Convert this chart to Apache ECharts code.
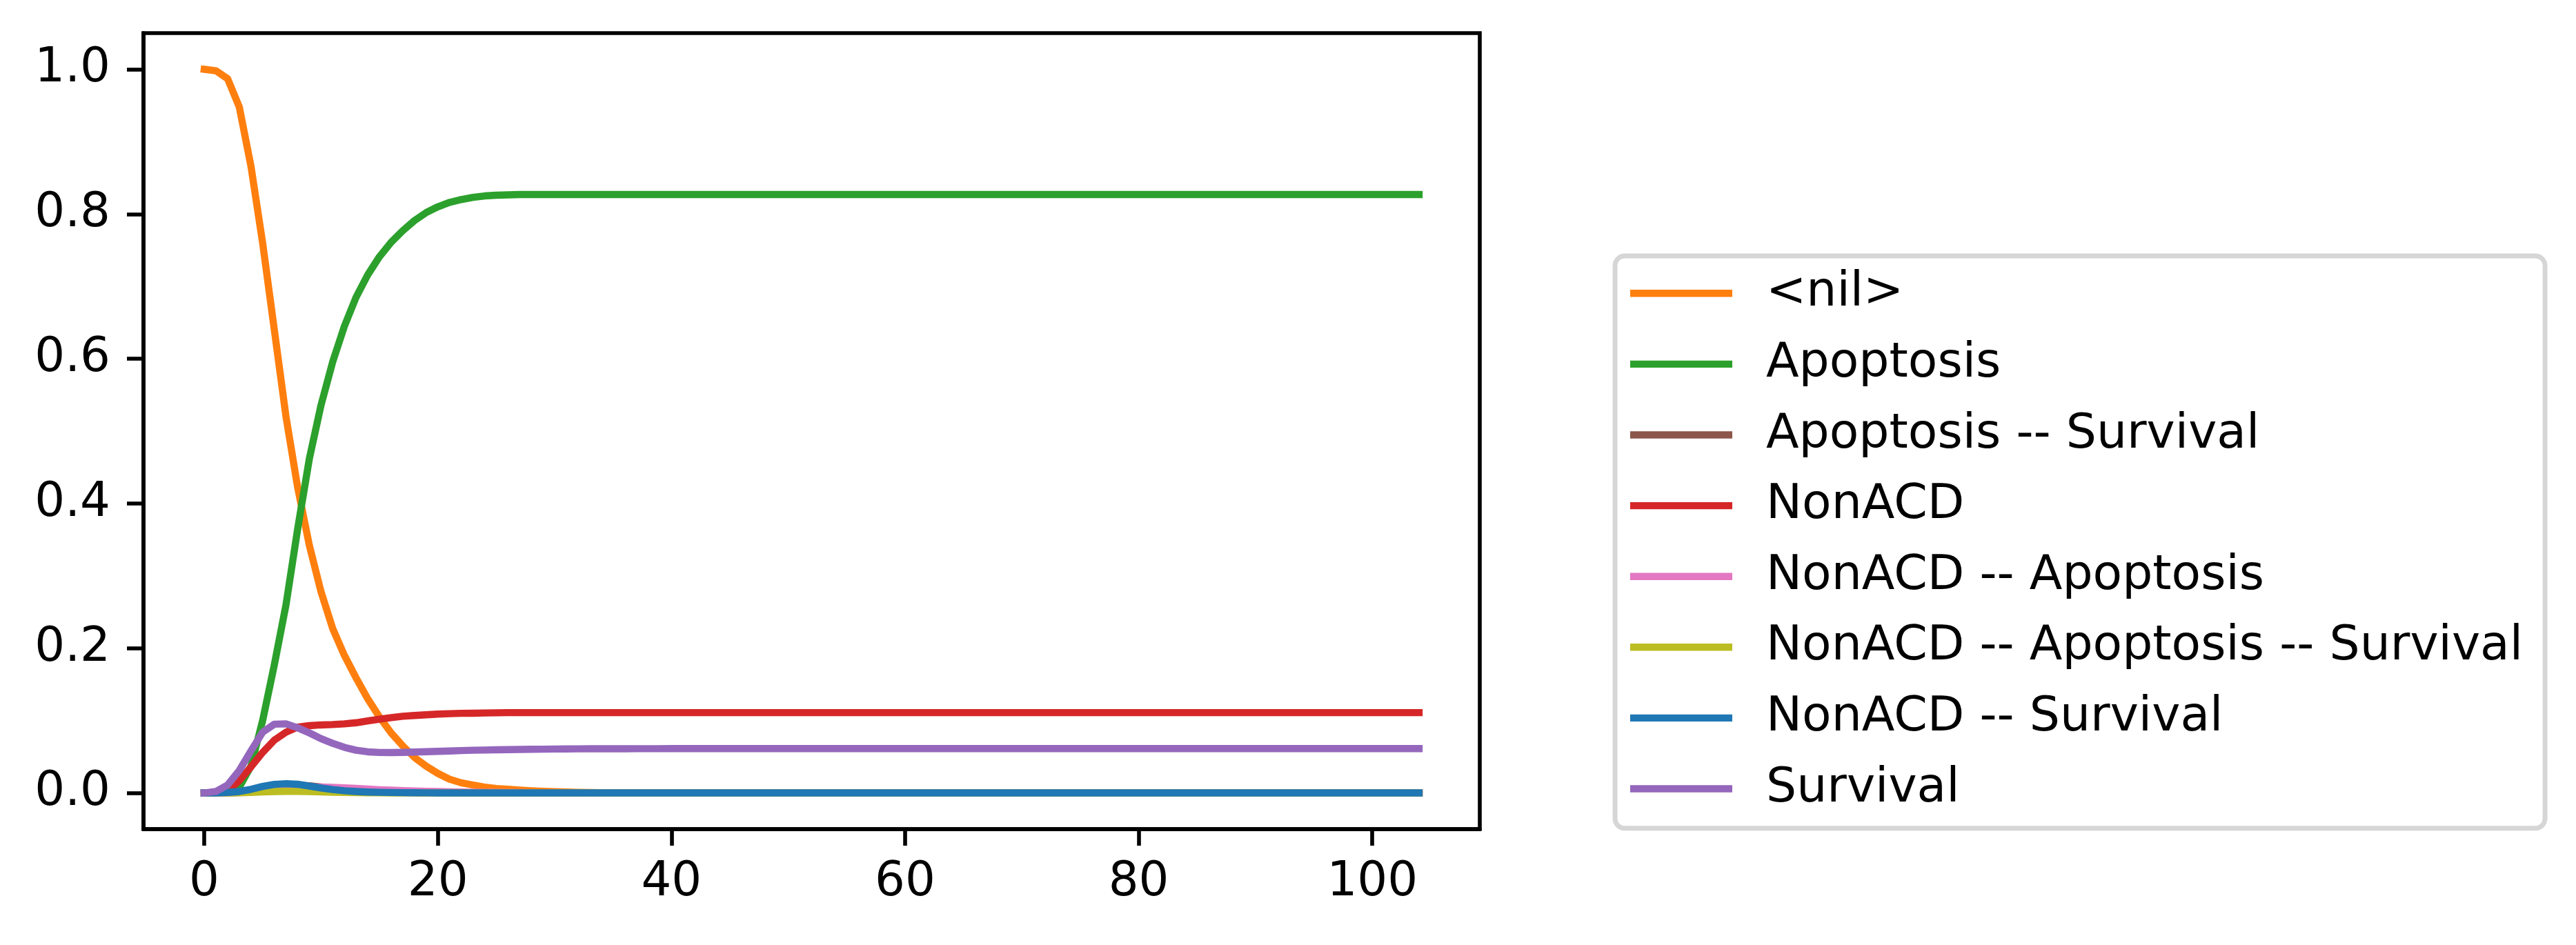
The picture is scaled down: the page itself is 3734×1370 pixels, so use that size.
<!DOCTYPE html>
<html>
<head>
<meta charset="utf-8">
<script src="https://cdn.jsdelivr.net/npm/echarts@6/dist/echarts.min.js"></script>
<style>
html,body{margin:0;padding:0;background:#fff;}
#chart{width:3734px;height:1370px;}
</style>
</head>
<body>
<div id="chart"></div>
<script>
var times = [
0,1,2,3,4,5,6,7,8,9,
10,11,12,13,14,15,16,17,18,19,
20,21,22,23,24,25,26,27,28,29,
30,31,32,33,34,35,36,37,38,39,
40,41,42,43,44,45,46,47,48,49,
50,51,52,53,54,55,56,57,58,59,
60,61,62,63,64,65,66,67,68,69,
70,71,72,73,74,75,76,77,78,79,
80,81,82,83,84,85,86,87,88,89,
90,91,92,93,94,95,96,97,98,99,
100,101,102,103,104];

var xTicks = [0,20,40,60,80,100];
var yTicks = [0,0.2,0.4,0.6,0.8,1.0];

var seriesNames = ['<nil>','Apoptosis','Apoptosis -- Survival','NonACD','NonACD -- Apoptosis','NonACD -- Apoptosis -- Survival','NonACD -- Survival','Survival'];
var seriesColors = ['#ff7f0e','#2ca02c','#8c564b','#d62728','#e377c2','#bcbd22','#1f77b4','#9467bd'];

var nilVals = [
1.0,0.998,0.987,0.948,0.866,0.76,0.64,0.52,0.422,0.342,
0.278,0.227,0.19,0.159,0.13,0.105,0.083,0.065,0.049,0.037,
0.027,0.019,0.014,0.011,0.008,0.006,0.005,0.004,0.003,0.0023,
0.0017,0.0012,0.0009,0.0006,0.0004,0.0003,0.0002,0.0001,0.0001,0,
0,0,0,0,0,0,0,0,0,0,
0,0,0,0,0,0,0,0,0,0,
0,0,0,0,0,0,0,0,0,0,
0,0,0,0,0,0,0,0,0,0,
0,0,0,0,0,0,0,0,0,0,
0,0,0,0,0,0,0,0,0,0,
0,0,0,0,0];

var apoptosisVals = [
0,0,0.001,0.008,0.037,0.10,0.177,0.26,0.365,0.462,
0.536,0.596,0.645,0.685,0.716,0.741,0.761,0.777,0.791,0.802,
0.810,0.816,0.820,0.823,0.825,0.826,0.8265,0.827,0.827,0.827,
0.827,0.827,0.827,0.827,0.827,0.827,0.827,0.827,0.827,0.827,
0.827,0.827,0.827,0.827,0.827,0.827,0.827,0.827,0.827,0.827,
0.827,0.827,0.827,0.827,0.827,0.827,0.827,0.827,0.827,0.827,
0.827,0.827,0.827,0.827,0.827,0.827,0.827,0.827,0.827,0.827,
0.827,0.827,0.827,0.827,0.827,0.827,0.827,0.827,0.827,0.827,
0.827,0.827,0.827,0.827,0.827,0.827,0.827,0.827,0.827,0.827,
0.827,0.827,0.827,0.827,0.827,0.827,0.827,0.827,0.827,0.827,
0.827,0.827,0.827,0.827,0.827];

var apoSurvVals = [
0,0,0,0.0008,0.0025,0.005,0.0078,0.0098,0.0105,0.0098,
0.0082,0.0064,0.0048,0.0035,0.0025,0.0017,0.0012,0.0008,0.0005,0.0003,
0.0002,0.0001,0,0,0,0,0,0,0,0,
0,0,0,0,0,0,0,0,0,0,
0,0,0,0,0,0,0,0,0,0,
0,0,0,0,0,0,0,0,0,0,
0,0,0,0,0,0,0,0,0,0,
0,0,0,0,0,0,0,0,0,0,
0,0,0,0,0,0,0,0,0,0,
0,0,0,0,0,0,0,0,0,0,
0,0,0,0,0];

var nonacdVals = [
0,0,0.003,0.017,0.036,0.056,0.073,0.084,0.091,0.093,
0.094,0.0945,0.0955,0.097,0.0995,0.102,0.104,0.106,0.107,0.108,
0.109,0.1095,0.110,0.1102,0.1105,0.1107,0.111,0.111,0.111,0.111,
0.111,0.111,0.111,0.111,0.111,0.111,0.111,0.111,0.111,0.111,
0.111,0.111,0.111,0.111,0.111,0.111,0.111,0.111,0.111,0.111,
0.111,0.111,0.111,0.111,0.111,0.111,0.111,0.111,0.111,0.111,
0.111,0.111,0.111,0.111,0.111,0.111,0.111,0.111,0.111,0.111,
0.111,0.111,0.111,0.111,0.111,0.111,0.111,0.111,0.111,0.111,
0.111,0.111,0.111,0.111,0.111,0.111,0.111,0.111,0.111,0.111,
0.111,0.111,0.111,0.111,0.111,0.111,0.111,0.111,0.111,0.111,
0.111,0.111,0.111,0.111,0.111];

var nonacdApoVals = [
0,0,0,0.0005,0.0015,0.003,0.0048,0.0065,0.0078,0.0082,
0.0082,0.0077,0.007,0.0062,0.0053,0.0045,0.0038,0.0032,0.0027,0.0023,
0.0019,0.0016,0.0013,0.0011,0.0009,0.0007,0.0006,0.0005,0.0004,0.0003,
0.0003,0.0002,0.0002,0.0001,0.0001,0,0,0,0,0,
0,0,0,0,0,0,0,0,0,0,
0,0,0,0,0,0,0,0,0,0,
0,0,0,0,0,0,0,0,0,0,
0,0,0,0,0,0,0,0,0,0,
0,0,0,0,0,0,0,0,0,0,
0,0,0,0,0,0,0,0,0,0,
0,0,0,0,0];

var nonacdApoSurvVals = [
0,0,0,0.0003,0.0008,0.0014,0.0019,0.0022,0.0021,0.0018,
0.0014,0.001,0.0007,0.0005,0.0003,0.0002,0.0001,0,0,0,
0,0,0,0,0,0,0,0,0,0,
0,0,0,0,0,0,0,0,0,0,
0,0,0,0,0,0,0,0,0,0,
0,0,0,0,0,0,0,0,0,0,
0,0,0,0,0,0,0,0,0,0,
0,0,0,0,0,0,0,0,0,0,
0,0,0,0,0,0,0,0,0,0,
0,0,0,0,0,0,0,0,0,0,
0,0,0,0,0];

var nonacdSurvVals = [
0,0,0.0008,0.002,0.005,0.009,0.0118,0.0128,0.012,0.0095,
0.0068,0.0047,0.003,0.002,0.0013,0.0009,0.0006,0.0004,0.0003,0.0002,
0.0001,0,0,0,0,0,0,0,0,0,
0,0,0,0,0,0,0,0,0,0,
0,0,0,0,0,0,0,0,0,0,
0,0,0,0,0,0,0,0,0,0,
0,0,0,0,0,0,0,0,0,0,
0,0,0,0,0,0,0,0,0,0,
0,0,0,0,0,0,0,0,0,0,
0,0,0,0,0,0,0,0,0,0,
0,0,0,0,0];

var survivalVals = [
0,0.002,0.011,0.031,0.058,0.084,0.095,0.0955,0.090,0.083,
0.075,0.0686,0.063,0.059,0.0568,0.0559,0.0558,0.0561,0.0565,0.057,
0.0575,0.058,0.0585,0.059,0.0593,0.0596,0.0599,0.0601,0.0603,0.0605,
0.0607,0.0608,0.0609,0.061,0.061,0.0611,0.0611,0.0612,0.0612,0.0612,
0.0613,0.0613,0.0613,0.0613,0.0613,0.0613,0.0613,0.0613,0.0613,0.0613,
0.0613,0.0613,0.0613,0.0613,0.0613,0.0613,0.0613,0.0613,0.0613,0.0613,
0.0613,0.0613,0.0613,0.0613,0.0613,0.0613,0.0613,0.0613,0.0613,0.0613,
0.0613,0.0613,0.0613,0.0613,0.0613,0.0613,0.0613,0.0613,0.0613,0.0613,
0.0613,0.0613,0.0613,0.0613,0.0613,0.0613,0.0613,0.0613,0.0613,0.0613,
0.0613,0.0613,0.0613,0.0613,0.0613,0.0613,0.0613,0.0613,0.0613,0.0613,
0.0613,0.0613,0.0613,0.0613,0.0613];

var allVals = [nilVals, apoptosisVals, apoSurvVals, nonacdVals, nonacdApoVals, nonacdApoSurvVals, nonacdSurvVals, survivalVals];

var FONT = 'DejaVu Sans';
var FS = 69;
var LFS = 69.6;
var LW = 10.4;

var series = seriesNames.map(function(name, k){
  return {
    name: name,
    type: 'line',
    data: times.map(function(t, i){ return [t, allVals[k][i]]; }),
    showSymbol: false,
    symbol: 'none',
    color: seriesColors[k],
    lineStyle: {color: seriesColors[k], width: LW, cap: 'square', join: 'round'},
    itemStyle: {color: seriesColors[k]},
    emphasis: {disabled: true},
    animation: false,
    z: 2
  };
});

var chart = echarts.init(document.getElementById('chart'), null, {renderer: 'canvas'});
chart.setOption({
  backgroundColor: '#ffffff',
  animation: false,
  textStyle: {fontFamily: FONT},
  grid: {
    left: 208, top: 48, right: 1589, bottom: 168,
    show: true, borderColor: '#000', borderWidth: 5.6, backgroundColor: 'transparent'
  },
  xAxis: {
    type: 'value', min: -5.2, max: 109.2,
    splitLine: {show: false},
    axisLine: {show: true, onZero: false, lineStyle: {color: '#000', width: 5.6}},
    axisTick: {show: true, inside: false, length: 24, lineStyle: {color: '#000', width: 5.6}, customValues: xTicks},
    axisLabel: {show: true, margin: 44, color: '#000', fontFamily: FONT, fontSize: FS, customValues: xTicks,
      formatter: function(v){ return String(Math.round(v)); }}
  },
  yAxis: {
    type: 'value', min: -0.05, max: 1.05,
    splitLine: {show: false},
    axisLine: {show: true, onZero: false, lineStyle: {color: '#000', width: 5.6}},
    axisTick: {show: true, inside: false, length: 24, lineStyle: {color: '#000', width: 5.6}, customValues: yTicks},
    axisLabel: {show: true, margin: 48, color: '#000', fontFamily: FONT, fontSize: FS, customValues: yTicks,
      formatter: function(v){ return v.toFixed(1); }}
  },
  legend: {
    orient: 'vertical',
    left: 2341, top: 371,
    padding: [3, 32, 6, 22],
    itemGap: 0,
    itemWidth: 148,
    itemHeight: 10.4,
    icon: 'rect',
    selectedMode: false,
    backgroundColor: '#ffffff',
    borderColor: '#d6d6d6',
    borderWidth: 6.9,
    borderRadius: 14,
    data: seriesNames.map(function(n){ return {name: n, icon: 'rect'}; }),
    textStyle: {fontFamily: FONT, fontSize: LFS, color: '#000', lineHeight: 102.6, padding: [0, 0, 0, 44]}
  },
  series: series
});
</script>
</body>
</html>
